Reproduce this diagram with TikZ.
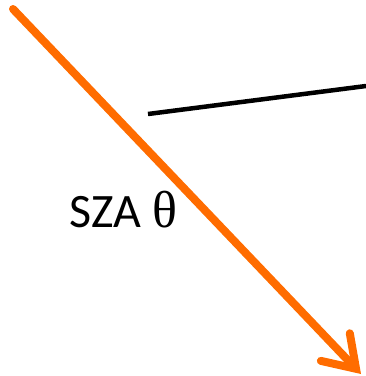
\documentclass[tikz,border=0pt]{standalone}
\usepackage{fontspec}
\setmainfont{Carlito}
\newfontfamily\greekfont{Liberation Serif}
\usetikzlibrary{arrows.meta}
\definecolor{sunray}{RGB}{255, 108, 0}

\begin{document}
\begin{tikzpicture}[x=1pt, y=-1pt,
            ray/.style={sunray, line width=8pt, line cap=round, -{Straight Barb[length=30pt, width=40pt, line cap=round]}},
            surface/.style={black, line width=4.5pt},
            label/.style={anchor=base west, inner sep=0pt, font=\fontsize{48}{50}\selectfont}
        ]
            \useasboundingbox (0,0) rectangle (366,376);
            \coordinate (sun) at (13,9);
            \coordinate (ground) at (361,374);
            \coordinate (left) at (148,114);
            \coordinate (right) at (366,86);
            
            \draw[surface] (left) -- (right);
            \draw[ray] (sun) -- (ground);
            \node[label] (sza) at (69,227) {SZA {\greekfont\fontsize{52}{54}\selectfont θ}};
        \end{tikzpicture}
\end{document}
